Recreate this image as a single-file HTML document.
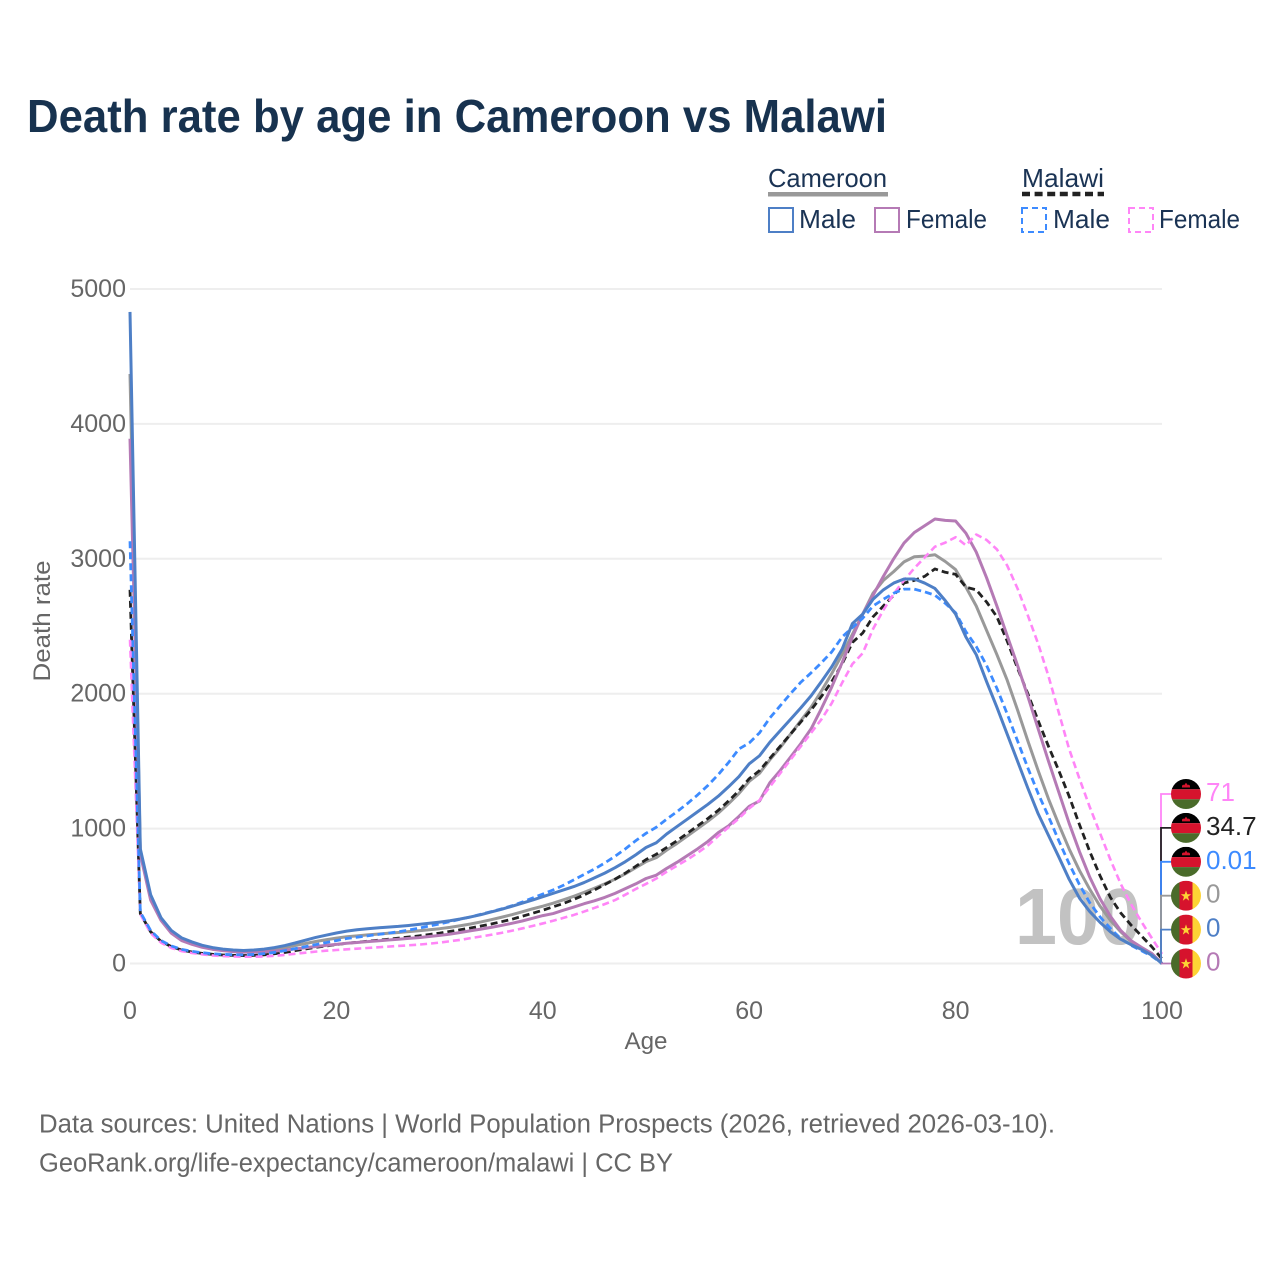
<!DOCTYPE html>
<html lang="en">
<head>
<meta charset="utf-8">
<title>Death rate by age in Cameroon vs Malawi</title>
<style>
html,body{margin:0;padding:0;background:#fff;width:1280px;height:1280px;overflow:hidden}
svg{display:block}
text{font-family:"Liberation Sans",sans-serif}
.tick{font-size:25px;fill:#666}
.leg{font-size:26px;fill:#1a3354}
.foot{font-size:25.5px;fill:#666}
</style>
</head>
<body>
<svg id="chart" xmlns="http://www.w3.org/2000/svg" width="1280" height="1280" viewBox="0 0 1280 1280">
  <rect width="1280" height="1280" fill="#fff"/>
  <text x="27" y="132" font-size="46" font-weight="700" fill="#17324f" textLength="860" lengthAdjust="spacingAndGlyphs">Death rate by age in Cameroon vs Malawi</text>

  <g>
    <text class="leg" x="768" y="187" textLength="119" lengthAdjust="spacingAndGlyphs">Cameroon</text>
    <rect x="768" y="192" width="120" height="4.5" fill="#999"/>
    <text class="leg" x="1022" y="187" textLength="82" lengthAdjust="spacingAndGlyphs">Malawi</text>
    <line x1="1022" y1="194" x2="1104" y2="194" stroke="#222" stroke-width="4.5" stroke-dasharray="8 4.6"/>
    <rect x="769" y="208" width="24" height="24" fill="none" stroke="#4e7fc6" stroke-width="2"/>
    <text class="leg" x="799" y="228" textLength="57" lengthAdjust="spacingAndGlyphs">Male</text>
    <rect x="875" y="208" width="24" height="24" fill="none" stroke="#b57ab5" stroke-width="2"/>
    <text class="leg" x="906" y="228" textLength="81" lengthAdjust="spacingAndGlyphs">Female</text>
    <rect x="1022" y="208" width="24" height="24" fill="none" stroke="#3d8bff" stroke-width="2" stroke-dasharray="6 4"/>
    <text class="leg" x="1053" y="228" textLength="57" lengthAdjust="spacingAndGlyphs">Male</text>
    <rect x="1129" y="208" width="24" height="24" fill="none" stroke="#ff85f7" stroke-width="2" stroke-dasharray="6 4"/>
    <text class="leg" x="1159" y="228" textLength="81" lengthAdjust="spacingAndGlyphs">Female</text>
  </g>

  <g id="grid"></g>
  <g id="yticks"></g>
  <g id="xticks"></g>

  <text x="0" y="0" transform="translate(50,621) rotate(-90)" text-anchor="middle" font-size="24" fill="#666" textLength="121" lengthAdjust="spacingAndGlyphs">Death rate</text>
  <text x="646" y="1049" text-anchor="middle" font-size="24" fill="#666" textLength="43" lengthAdjust="spacingAndGlyphs">Age</text>

  <text x="1141" y="944" text-anchor="end" font-size="80" font-weight="700" fill="#c2c2c2" textLength="126" lengthAdjust="spacingAndGlyphs">100</text>

  <g id="series"></g>
  <g id="ends"></g>

  <text class="foot" x="39" y="1132.5" textLength="1016" lengthAdjust="spacingAndGlyphs">Data sources: United Nations | World Population Prospects (2026, retrieved 2026-03-10).</text>
  <a><text class="foot" x="39" y="1171.5" textLength="634" lengthAdjust="spacingAndGlyphs">GeoRank.org/life-expectancy/cameroon/malawi | CC BY</text></a>
</svg>

<script>
const ages = Array.from({length: 101}, function (_, i) { return i; });
const yTickValues = [0, 1000, 2000, 3000, 4000, 5000];
const xTickValues = [0, 20, 40, 60, 80, 100];

const cameroonMale = [4830,850,510,340,245,190,160,135,118,107,
  100,96,100,107,118,133,152,173,193,210,
  226,240,250,258,264,270,275,282,290,298,
  307,317,330,345,362,382,402,424,447,470,
  495,520,545,570,600,635,670,710,755,805,
  860,895,960,1015,1070,1125,1180,1240,1310,1385,
  1480,1540,1640,1725,1810,1895,1985,2090,2200,2330,
  2520,2590,2700,2770,2820,2850,2850,2820,2780,2690,
  2590,2420,2290,2090,1900,1700,1500,1300,1110,950,
  790,625,485,385,305,235,180,140,105,62,0];
const cameroonTotal = [4370,830,490,330,235,180,150,128,112,100,
  94,90,92,97,106,118,133,148,163,176,
  188,198,205,212,218,224,230,236,243,250,
  258,268,280,293,308,325,343,362,383,405,
  425,447,472,498,527,558,590,625,665,710,
  755,785,840,890,945,1000,1055,1115,1185,1260,
  1350,1410,1510,1600,1700,1800,1900,2020,2150,2290,
  2440,2590,2745,2840,2905,2977,3015,3020,3030,2980,
  2920,2790,2650,2470,2290,2100,1880,1650,1430,1220,
  1030,850,690,550,425,320,235,165,110,70,0];
const cameroonFemale = [3890,810,470,320,225,170,142,120,105,95,
  88,84,84,87,92,99,108,117,126,134,
  142,150,156,162,168,174,180,186,192,200,
  208,218,230,243,255,268,282,298,315,335,
  355,370,395,418,443,465,490,520,555,590,
  630,655,705,750,800,850,905,970,1020,1090,
  1165,1205,1340,1430,1530,1630,1740,1890,2050,2230,
  2420,2590,2730,2870,3000,3117,3195,3245,3295,3285,
  3280,3190,3050,2860,2650,2430,2210,1980,1740,1500,
  1270,1040,830,640,480,350,245,170,120,75,0];
const malawiMale = [3130,380,245,170,130,105,90,80,72,68,
  65,64,67,73,82,95,110,125,140,155,
  170,185,195,205,215,225,235,248,262,278,
  293,310,328,345,365,385,405,428,455,485,
  515,545,580,620,660,700,745,795,850,910,
  965,1010,1070,1125,1185,1250,1320,1400,1490,1590,
  1635,1710,1820,1910,2000,2085,2155,2230,2310,2420,
  2490,2560,2650,2700,2745,2775,2775,2755,2730,2670,
  2600,2460,2350,2210,2040,1850,1650,1450,1260,1090,
  910,740,585,450,345,260,185,135,95,55,0.01];
const malawiTotal = [2770,370,235,165,125,100,85,75,68,63,
  60,59,60,64,72,82,95,108,120,130,
  140,150,157,165,172,180,188,196,205,215,
  225,238,250,263,278,293,310,328,350,372,
  395,420,445,475,508,545,585,625,670,720,
  770,810,860,910,965,1020,1075,1135,1205,1280,
  1370,1430,1520,1610,1700,1790,1880,1980,2090,2220,
  2380,2450,2570,2650,2730,2820,2840,2870,2925,2900,
  2885,2790,2770,2680,2570,2390,2190,2000,1800,1610,
  1430,1240,1030,830,650,490,375,285,205,125,34.7];
const malawiFemale = [2400,365,225,155,115,92,78,68,60,55,
  52,50,50,52,57,64,72,80,88,95,
  100,105,110,115,120,125,130,135,140,147,
  155,165,175,188,200,213,227,243,260,278,
  297,317,338,360,385,412,440,470,510,552,
  590,630,680,725,770,820,875,945,1010,1075,
  1150,1210,1310,1410,1510,1610,1710,1810,1930,2080,
  2220,2300,2480,2620,2740,2840,2930,3010,3090,3120,
  3160,3100,3180,3140,3070,2950,2780,2580,2370,2130,
  1860,1590,1370,1160,965,770,590,440,310,190,71];

const NS = 'http://www.w3.org/2000/svg';
function xAxis(age) { return 130 + age * 10.32; }
function yAxis(v) { return 963.5 - v * 0.1349; }
function el(tag, attrs, parent) {
  const n = document.createElementNS(NS, tag);
  Object.keys(attrs).forEach(function (k) { n.setAttribute(k, attrs[k]); });
  parent.appendChild(n);
  return n;
}

const gridG = document.getElementById('grid');
const yG = document.getElementById('yticks');
const xG = document.getElementById('xticks');
yTickValues.forEach(function (v) {
  const g = el('line', {x1: 130, x2: 1162, y1: yAxis(v), y2: yAxis(v), stroke: '#eeeeee', 'stroke-width': 2}, gridG);
  
  
  const t = el('text', {x: 126, y: yAxis(v) + 8, 'text-anchor': 'end', class: 'tick'}, yG);
  t.textContent = String(v);
  
  
});
xTickValues.forEach(function (a) {
  const t = el('text', {x: xAxis(a), y: 1019, 'text-anchor': 'middle', class: 'tick'}, xG);
  t.textContent = String(a);
  
  
});

const seriesList = [
  {key: 'cameroon-total', values: cameroonTotal, color: '#999999', dash: '', width: 3, flag: 'cm'},
  {key: 'malawi-total', values: malawiTotal, color: '#222222', dash: '7 4', width: 2.8, flag: 'mw'},
  {key: 'cameroon-female', values: cameroonFemale, color: '#b57ab5', dash: '', width: 3, flag: 'cm'},
  {key: 'malawi-female', values: malawiFemale, color: '#ff85f7', dash: '7 4', width: 2.6, flag: 'mw'},
  {key: 'malawi-male', values: malawiMale, color: '#3d8bff', dash: '7 4', width: 2.8, flag: 'mw'},
  {key: 'cameroon-male', values: cameroonMale, color: '#4e7fc6', dash: '', width: 3, flag: 'cm'}
];

const seriesG = document.getElementById('series');
seriesList.forEach(function (s) {
  const d = s.values.map(function (v, i) {
    return (i ? 'L' : 'M') + xAxis(ages[i]).toFixed(2) + ' ' + yAxis(v).toFixed(2);
  }).join(' ');
  const p = el('path', {d: d, fill: 'none', stroke: s.color, 'stroke-width': s.width, 'stroke-linejoin': 'round'}, seriesG);
  if (s.dash) p.setAttribute('stroke-dasharray', s.dash);
  
  
});

/* end labels: sorted by final value, stacked from the top */
const endOrder = ['malawi-female', 'malawi-total', 'malawi-male', 'cameroon-total', 'cameroon-male', 'cameroon-female'];
const endsG = document.getElementById('ends');
const defs = el('defs', {}, endsG);
const sorted = endOrder.map(function (k) {
  return seriesList.filter(function (s) { return s.key === k; })[0];
}).map(function (s, i) { return {s: s, i: i}; }).sort(function (a, b) {
  const d = b.s.values[100] - a.s.values[100];
  return d !== 0 ? d : a.i - b.i;
}).map(function (o) { return o.s; });

sorted.forEach(function (s, i) {
  const cy = 794 + i * 33.9;
  const last = s.values[100];
  const conn = el('path', {
    d: 'M' + xAxis(100) + ' ' + yAxis(last) + ' L1161 ' + yAxis(last) + ' L1161 ' + cy + ' L1172 ' + cy,
    fill: 'none', stroke: s.color, 'stroke-width': 1.8
  }, endsG);
  
  
});
sorted.forEach(function (s, i) {
  const cy = 794 + i * 33.9;
  const cx = 1186;
  const clipId = 'clip-' + s.key;
  const cp = el('clipPath', {id: clipId}, defs);
  el('circle', {cx: cx, cy: cy, r: 15}, cp);
  const f = el('g', {'clip-path': 'url(#' + clipId + ')'}, endsG);
  
  
  if (s.flag === 'mw') {
    el('rect', {x: cx - 15, y: cy - 15, width: 30, height: 10.3, fill: '#000'}, f);
    el('rect', {x: cx - 15, y: cy - 4.7, width: 30, height: 10, fill: '#d6132d'}, f);
    el('rect', {x: cx - 15, y: cy + 5.3, width: 30, height: 10, fill: '#4a6b2a'}, f);
    el('path', {d: 'M' + (cx - 4) + ' ' + (cy - 6.5) + ' h8 v-1.8 l-1.2 -1.2 l-0.9 0.7 l-1.9 -2.4 l-1.9 2.4 l-0.9 -0.7 l-1.2 1.2 z', fill: '#d6132d'}, f);
  } else {
    el('rect', {x: cx - 15, y: cy - 15, width: 8.5, height: 30, fill: '#4a6b2a'}, f);
    el('rect', {x: cx - 6.5, y: cy - 15, width: 13, height: 30, fill: '#d6132d'}, f);
    el('rect', {x: cx + 6.5, y: cy - 15, width: 8.5, height: 30, fill: '#fdd335'}, f);
    el('polygon', {points: [
      [cx, cy - 5.2], [cx + 1.3, cy - 1.4], [cx + 5.2, cy - 1.4], [cx + 2, cy + 1], [cx + 3.2, cy + 5],
      [cx, cy + 2.6], [cx - 3.2, cy + 5], [cx - 2, cy + 1], [cx - 5.2, cy - 1.4], [cx - 1.3, cy - 1.4]
    ].map(function (p) { return p.join(','); }).join(' '), fill: '#fdd335'}, f);
  }
  const t = el('text', {x: 1206, y: cy + 7, 'font-size': 26, fill: s.color}, endsG);
  t.textContent = String(s.values[100]);
  
  
});
</script>
</body>
</html>
